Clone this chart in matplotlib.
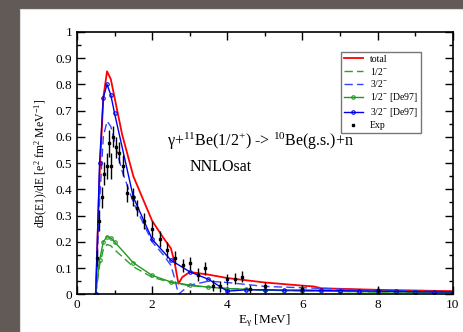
import matplotlib
matplotlib.use("Agg")
import matplotlib.pyplot as plt
from matplotlib.patches import Rectangle
from matplotlib.ticker import MultipleLocator
import numpy as np

plt.rcParams['font.family'] = ['Liberation Serif', 'DejaVu Serif']
plt.rcParams['mathtext.fontset'] = 'custom'
plt.rcParams['mathtext.rm'] = 'Liberation Serif'
plt.rcParams['mathtext.it'] = 'Liberation Serif:italic'

# total (red)
e_tot = [0.5, 0.6, 0.7, 0.8, 0.9, 1.0, 1.2, 1.5, 2.0, 2.3, 2.5, 2.6, 2.7, 2.8, 3.0, 3.5, 4.0, 5.0, 6.0, 6.3, 6.5, 8.0, 10.0]
b_tot = [0.0, 0.45, 0.75, 0.85, 0.82, 0.75, 0.61, 0.45, 0.28, 0.215, 0.175, 0.12, 0.04, 0.065, 0.085, 0.075, 0.062, 0.045, 0.033, 0.03, 0.023, 0.017, 0.012]

# 1/2- (green dashed)
e_half = [0.5, 0.6, 0.7, 0.8, 0.9, 1.0, 1.5, 2.0, 2.5, 3.0, 4.0, 5.0, 6.0, 8.0, 10.0]
b_half = [0.0, 0.11, 0.17, 0.19, 0.185, 0.17, 0.105, 0.065, 0.045, 0.033, 0.022, 0.016, 0.013, 0.009, 0.007]

# 3/2- (blue dashed)
e_3half = [0.5, 0.6, 0.7, 0.8, 0.9, 1.0, 1.2, 1.5, 2.0, 2.3, 2.5, 2.6, 2.7, 2.8, 3.0, 3.5, 4.0, 5.0, 6.0, 8.0, 10.0]
b_3half = [0.0, 0.35, 0.6, 0.66, 0.64, 0.58, 0.47, 0.35, 0.2, 0.15, 0.11, 0.06, 0.0, 0.012, 0.035, 0.05, 0.045, 0.03, 0.025, 0.015, 0.01]

# 1/2- [De97] (green with markers)
e_de_half = [0.5, 0.6, 0.7, 0.8, 0.9, 1.0, 1.5, 2.0, 2.5, 3.0, 3.5, 4.0, 4.5, 5.0, 5.5, 6.0, 6.5, 7.0, 7.5, 8.0, 8.5, 9.0, 9.5, 10.0]
b_de_half = [0.0, 0.13, 0.2, 0.22, 0.215, 0.2, 0.12, 0.072, 0.047, 0.035, 0.027, 0.022, 0.019, 0.016, 0.014, 0.013, 0.012, 0.011, 0.01, 0.009, 0.009, 0.008, 0.008, 0.007]

# 3/2- [De97] (blue with markers)
e_de_3half = [0.5, 0.6, 0.7, 0.8, 0.9, 1.0, 1.5, 2.0, 2.5, 3.0, 3.5, 4.0, 4.5, 5.0, 5.5, 6.0, 6.5, 7.0, 7.5, 8.0, 8.5, 9.0, 9.5, 10.0]
b_de_3half = [0.0, 0.5, 0.75, 0.8, 0.76, 0.69, 0.37, 0.21, 0.13, 0.086, 0.057, 0.012, 0.017, 0.017, 0.016, 0.016, 0.015, 0.014, 0.013, 0.012, 0.011, 0.01, 0.009, 0.009]

# experiment
e_exp = [0.52, 0.58, 0.67, 0.73, 0.79, 0.84, 0.9, 0.97, 1.04, 1.12, 1.23, 1.34, 1.48, 1.6, 1.78, 2.0, 2.21, 2.4, 2.61, 2.81, 3.0, 3.21, 3.4, 3.61, 3.8, 4.0, 4.2, 4.4, 4.6, 5.0, 6.0, 8.0]
b_exp = [0.137, 0.28, 0.37, 0.46, 0.49, 0.575, 0.49, 0.6, 0.56, 0.54, 0.49, 0.385, 0.37, 0.33, 0.28, 0.25, 0.21, 0.17, 0.14, 0.11, 0.118, 0.074, 0.1, 0.033, 0.03, 0.057, 0.06, 0.067, 0.019, 0.03, 0.02, 0.017]
err_exp = [0.03, 0.04, 0.04, 0.045, 0.05, 0.05, 0.05, 0.04, 0.04, 0.04, 0.04, 0.035, 0.035, 0.03, 0.03, 0.03, 0.03, 0.03, 0.025, 0.025, 0.025, 0.025, 0.025, 0.02, 0.02, 0.02, 0.02, 0.02, 0.015, 0.015, 0.015, 0.012]

fig = plt.figure(figsize=(4.63, 3.32), dpi=100)
fig.patch.set_facecolor('#625a56')
fig.patches.append(Rectangle((20 / 463, 0), 1, 323 / 332, transform=fig.transFigure,
                             facecolor='white', edgecolor='#dddddd', lw=0.8, zorder=-10))
ax = fig.add_axes([77 / 463, 37.7 / 332, 375.7 / 463, 262.3 / 332])
ax.set_facecolor('white')

l1, = ax.plot(e_tot, b_tot, color='red', lw=1.3)
l2, = ax.plot(e_half, b_half, color='#2ca02c', lw=1.0, dashes=(6, 3))
l3, = ax.plot(e_3half, b_3half, color='#3344ff', lw=1.0, dashes=(6, 3))
l4, = ax.plot(e_de_half, b_de_half, color='#229922', lw=1.0, marker='o', ms=2.5, mfc='none', mew=0.8)
l5, = ax.plot(e_de_3half, b_de_3half, color='#0000ee', lw=1.0, marker='o', ms=2.5, mfc='none', mew=0.8)
eb = ax.errorbar(e_exp, b_exp, yerr=err_exp, fmt='s', color='black', ms=1.8, elinewidth=1.0,
                 capsize=0)

ax.set_xlim(0, 10)
ax.set_ylim(0, 1)
ax.xaxis.set_major_locator(MultipleLocator(2))
ax.xaxis.set_minor_locator(MultipleLocator(1))
ax.yaxis.set_minor_locator(MultipleLocator(0.05))
ax.set_yticks(np.arange(0, 1.01, 0.1))
ax.set_yticklabels(['0', '0.1', '0.2', '0.3', '0.4', '0.5', '0.6', '0.7', '0.8', '0.9', '1'])
ax.tick_params(which='both', direction='in', top=True, right=True, labelsize=9.5, width=1.0)
ax.tick_params(which='major', length=6)
ax.tick_params(which='minor', length=3)
for s in ax.spines.values():
    s.set_linewidth(1.2)

ax.set_xlabel(r'E$_{\mathrm{\gamma}}$ [MeV]', fontsize=9.5, labelpad=1)
ax.set_ylabel(r'dB(E1)/dE [e$^{2}$ fm$^{2}$ MeV$^{-1}$]', fontsize=8.5, labelpad=4)

ax.text(0.24, 0.565, 'γ+$^{11}$Be(1/2$^{+}$) -> $^{10}$Be(g.s.)+n', transform=ax.transAxes,
        fontsize=11.5)
ax.text(0.3, 0.47, 'NNLOsat', transform=ax.transAxes, fontsize=11.5)

leg = ax.legend([l1, l2, l3, l4, l5, eb[0]],
                ['total', '1/2$^{-}$', '3/2$^{-}$', '1/2$^{-}$ [De97]', '3/2$^{-}$ [De97]', 'Exp'],
                loc='upper right', bbox_to_anchor=(0.915, 0.925), fontsize=7, frameon=True,
                fancybox=False, edgecolor='#555555', handlelength=2.0, labelspacing=0.2,
                borderpad=0.3, handletextpad=0.7, borderaxespad=0)
leg.get_frame().set_linewidth(1.0)

fig.savefig('out.png', dpi=100, facecolor=fig.get_facecolor())
